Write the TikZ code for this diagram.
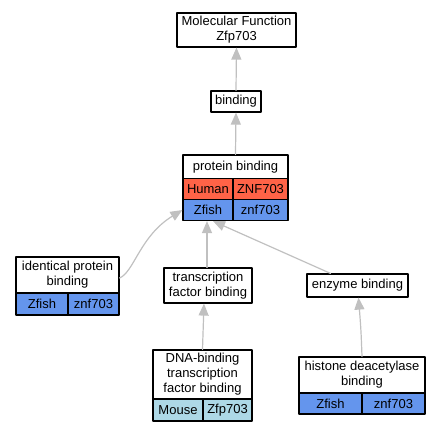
\documentclass[tikz,border=0pt]{standalone}
\usepackage{fontspec}
\setmainfont{Liberation Sans}
\usetikzlibrary{arrows.meta}

\begin{document}
\begin{tikzpicture}[x=1pt,y=-1pt,line join=round,line cap=round,
    box/.style={draw=black,line width=1.2pt,inner sep=0pt,align=center,
      font=\fontsize{13}{15}\selectfont},
    edge/.style={draw=edgegray,line width=1.2pt,-{Triangle[length=12pt,width=10pt]}}]

  % ---- colours (graphviz names) ----
  \definecolor{edgegray}{RGB}{192,192,192}
  \definecolor{humanred}{RGB}{255,99,71}
  \definecolor{fishblue}{RGB}{100,149,237}
  \definecolor{mouseblue}{RGB}{173,216,230}

  \useasboundingbox (0,0) rectangle (440,432);

  % ---- top of the tree ----
  \node[box,minimum width=119,minimum height=34] (mf) at (236.5,30) {Molecular Function\\Zfp703};
  \node[box,minimum width=50,minimum height=21] (bind) at (236,101.5) {binding};

  % ---- protein binding, with its gene table ----
  \node[box,minimum width=105,minimum height=24] (pb) at (235.5,167) {protein binding};
  \node[box,fill=humanred,minimum width=50,minimum height=21] (pbHuman) at (208,189) {Human};
  \node[box,fill=humanred,minimum width=55,minimum height=21] (pbHumanG) at (260.5,189) {ZNF703};
  \node[box,fill=fishblue,minimum width=50,minimum height=21] (pbZfish) at (208,210) {Zfish};
  \node[box,fill=fishblue,minimum width=55,minimum height=21] (pbZfishG) at (260.5,210) {znf703};

  % ---- identical protein binding ----
  \node[box,minimum width=103,minimum height=36] (ipb) at (67.5,275) {identical protein\\binding};
  \node[box,fill=fishblue,minimum width=52,minimum height=22] (ipbZfish) at (42,304) {Zfish};
  \node[box,fill=fishblue,minimum width=51,minimum height=22] (ipbZfishG) at (93.5,304) {znf703};

  % ---- middle row ----
  \node[box,minimum width=88,minimum height=35] (tfb) at (208,285.5) {transcription\\factor binding};
  \node[box,minimum width=101,minimum height=23] (enz) at (357.5,285.5) {enzyme binding};

  % ---- DNA-binding transcription factor binding ----
  \node[box,minimum width=99,minimum height=49] (dna) at (202.5,374.5) {DNA-binding\\transcription\\factor binding};
  \node[box,fill=mouseblue,minimum width=50,minimum height=22] (dnaMouse) at (178,410) {Mouse};
  \node[box,fill=mouseblue,minimum width=49,minimum height=22] (dnaMouseG) at (227.5,410) {Zfp703};

  % ---- histone deacetylase binding ----
  \node[box,minimum width=126,minimum height=36] (hdb) at (362,375) {histone deacetylase\\binding};
  \node[box,fill=fishblue,minimum width=63,minimum height=21] (hdbZfish) at (330.5,403.5) {Zfish};
  \node[box,fill=fishblue,minimum width=63,minimum height=21] (hdbZfishG) at (393.5,403.5) {znf703};

  % ---- is_a edges (child -> parent) ----
  \draw[edge] (bind.north) -- (mf.south);
  \draw[edge] (pb.north) -- (bind.south);
  \draw[edge] ([yshift=-3pt]ipb.east) .. controls (134,272) and (140,236) .. (pbZfish.west);
  \draw[edge] ([xshift=-1pt]tfb.north) -- ([xshift=-1pt]pbZfish.south);
  \draw[edge] ([xshift=-27pt]enz.north) -- ([xshift=5pt]pbZfish.south);
  \draw[edge] (dna.north) -- ([xshift=-4pt]tfb.south);
  \draw[edge] (hdb.north) .. controls (361,330) .. ([xshift=1pt]enz.south);

\end{tikzpicture}
\end{document}
